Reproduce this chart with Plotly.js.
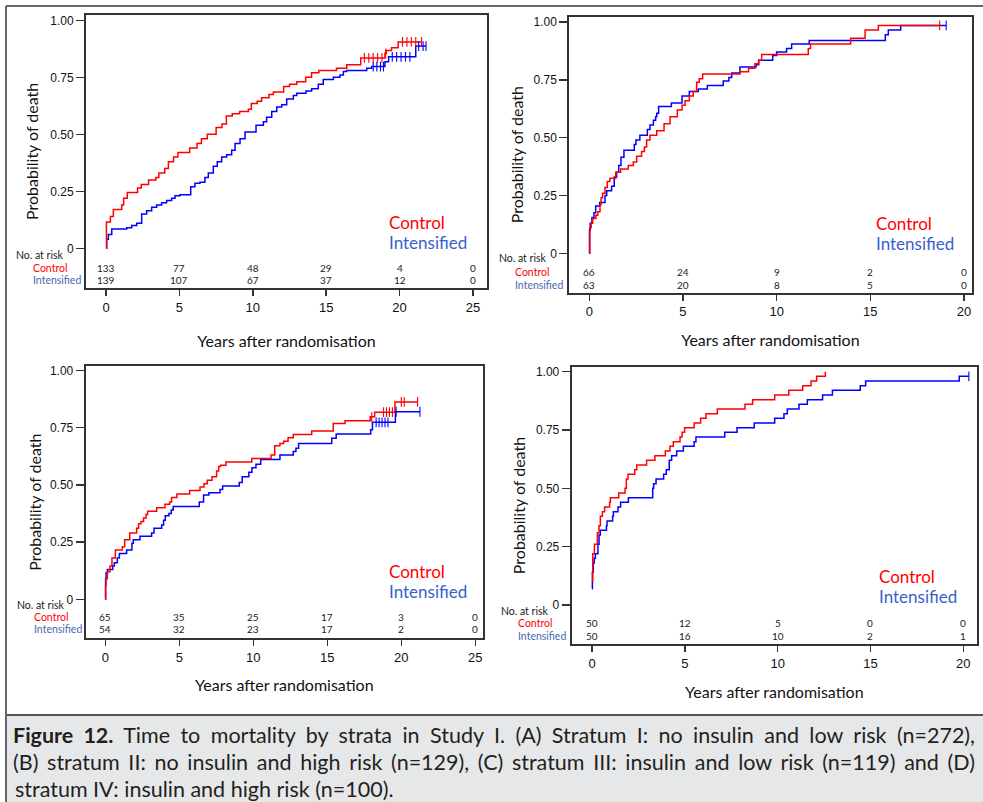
<!DOCTYPE html>
<html>
<head>
<meta charset="utf-8">
<script src="https://cdn.plot.ly/plotly-3.0.1.min.js"></script>
<style>html,body{margin:0;padding:0;background:#fff;}#chart{width:983px;height:802px;}</style>
</head>
<body>
<div id="chart"></div>
<script>
// ---------------- DATA ----------------
// Panel A: Stratum I (no insulin, low risk)
const tA_ctrl = [0,0.03,0.3,0.5,1.07,1.2,1.45,2.15,2.4,2.9,3.4,3.6,4.0,4.25,4.6,4.9,5.7,6.2,6.5,6.9,7.5,7.9,8.2,8.6,9.1,9.7,9.9,10.3,10.6,11.1,11.4,12.1,12.5,13.0,13.6,14.0,14.5,15.7,16.4,17.35,19.0,19.1,19.45,19.9,21.5];
const pA_ctrl = [0,0.115,0.14,0.17,0.19,0.22,0.245,0.265,0.28,0.30,0.31,0.33,0.35,0.38,0.40,0.42,0.44,0.46,0.48,0.50,0.53,0.545,0.58,0.59,0.60,0.61,0.635,0.645,0.66,0.675,0.685,0.71,0.72,0.73,0.75,0.77,0.78,0.79,0.805,0.835,0.855,0.867,0.88,0.905,0.905];
const tA_int = [0,0.05,0.16,0.39,1.41,1.75,2.09,2.43,2.77,3.11,3.45,3.79,4.13,4.47,4.7,5.04,5.77,6.06,6.4,6.74,6.97,7.31,7.58,7.88,8.22,8.56,8.79,9.13,9.47,10.22,10.72,10.94,11.29,11.63,11.97,12.31,12.76,12.99,13.62,14.01,14.46,14.8,15.49,15.94,16.17,16.39,17.76,18.1,19.0,19.25,21.1,21.8];
const pA_int = [0,0.04,0.06,0.085,0.09,0.10,0.11,0.15,0.165,0.18,0.19,0.20,0.21,0.22,0.23,0.235,0.27,0.285,0.29,0.31,0.33,0.36,0.38,0.40,0.41,0.43,0.46,0.48,0.51,0.54,0.555,0.575,0.60,0.62,0.63,0.655,0.67,0.68,0.69,0.70,0.72,0.74,0.75,0.76,0.775,0.78,0.79,0.797,0.818,0.84,0.887,0.887];
const cA_ctrl = [17.6,17.9,18.2,18.5,18.8,19.05,20.2,20.5,20.8,21.1,21.5];
const cA_int = [18.2,18.45,18.7,18.9,19.5,19.8,20.1,20.4,20.7,21.3,21.6,21.8];
const riskA_t = [0,5,10,15,20,25];
const riskA_ctrl = [133,77,48,29,4,0];
const riskA_int = [139,107,67,37,12,0];

// Panel B: Stratum II (no insulin, high risk)
const tB_ctrl = [0,0.03,0.1,0.18,0.35,0.45,0.57,0.63,0.71,0.84,0.96,1.1,1.41,1.67,2.08,2.35,2.53,2.79,2.94,3.06,3.24,3.6,3.99,4.31,4.7,4.95,5.11,5.34,5.55,5.73,5.87,6.05,8.04,8.5,8.84,9.04,9.2,11.69,11.81,13.95,14.72,15.43,18.7];
const pB_ctrl = [0,0.11,0.13,0.15,0.165,0.18,0.21,0.24,0.26,0.285,0.31,0.325,0.35,0.365,0.38,0.395,0.42,0.44,0.46,0.49,0.51,0.53,0.56,0.59,0.62,0.64,0.66,0.68,0.70,0.74,0.755,0.775,0.785,0.80,0.82,0.835,0.86,0.885,0.905,0.93,0.965,0.985,0.985];
const tB_int = [0,0.01,0.05,0.14,0.25,0.34,0.55,0.84,0.93,1.19,1.33,1.46,1.57,1.69,1.85,2.4,2.49,2.7,3.1,3.24,3.42,3.54,3.6,3.7,4.38,4.95,5.34,5.82,6.3,7.15,7.45,7.6,8.04,8.9,9.04,9.79,10.0,10.53,10.8,11.74,15.8,15.96,16.62,19.05];
const pB_int = [0,0.10,0.13,0.155,0.175,0.205,0.22,0.25,0.27,0.29,0.33,0.35,0.38,0.415,0.445,0.47,0.49,0.51,0.535,0.555,0.575,0.59,0.605,0.635,0.65,0.68,0.70,0.71,0.725,0.745,0.76,0.78,0.805,0.815,0.835,0.855,0.87,0.885,0.905,0.92,0.945,0.965,0.985,0.985];
const cB_ctrl = [18.7];
const cB_int = [19.05];
const riskB_t = [0,5,10,15,20];
const riskB_ctrl = [66,24,9,2,0];
const riskB_int = [63,20,8,5,0];

// Panel C: Stratum III (insulin, low risk)
const tC_ctrl = [0,0.02,0.05,0.14,0.32,0.45,0.68,1.15,1.31,1.65,2.12,2.25,2.41,2.59,2.75,2.86,3.47,4.03,4.35,4.48,4.84,5.7,6.4,6.67,6.89,7.21,7.52,7.66,7.79,8.15,9.9,11.2,11.45,11.8,12.05,12.35,12.7,13.95,15.4,16.2,17.9,18.2,19.57,21.1];
const pC_ctrl = [0,0.06,0.09,0.12,0.145,0.18,0.215,0.23,0.26,0.29,0.31,0.33,0.34,0.355,0.37,0.385,0.40,0.415,0.425,0.445,0.46,0.475,0.49,0.505,0.52,0.535,0.56,0.58,0.585,0.60,0.615,0.63,0.67,0.68,0.69,0.705,0.72,0.735,0.768,0.78,0.797,0.817,0.862,0.862];
const tC_int = [0,0.02,0.05,0.14,0.5,0.61,0.81,0.95,1.44,1.8,1.89,2.34,3.13,3.29,3.81,3.94,4.05,4.3,4.46,4.59,6.35,6.64,7.0,7.75,7.93,9.05,9.25,9.7,9.91,10.18,10.5,11.8,12.7,12.88,13.06,15.3,15.6,17.93,18.05,19.6,21.26];
const pC_int = [0,0.09,0.115,0.13,0.145,0.16,0.18,0.20,0.215,0.245,0.26,0.275,0.29,0.31,0.325,0.345,0.365,0.375,0.39,0.405,0.425,0.455,0.465,0.48,0.495,0.51,0.535,0.555,0.575,0.59,0.61,0.63,0.645,0.66,0.68,0.703,0.722,0.74,0.773,0.819,0.819];
const cC_ctrl = [18.0,18.8,19.0,19.2,19.4,20.0,20.2,21.1];
const cC_int = [18.3,18.5,18.7,18.9,19.1,19.65,21.26];
const riskC_t = [0,5,10,15,20,25];
const riskC_ctrl = [65,35,25,17,3,0];
const riskC_int = [54,32,23,17,2,0];

// Panel D: Stratum IV (insulin, high risk)
const tD_ctrl = [0,0.04,0.13,0.29,0.38,0.45,0.56,0.68,0.95,0.99,1.44,1.78,1.85,1.94,2.3,2.41,2.94,3.39,3.95,4.2,4.38,4.74,4.85,4.99,5.5,5.85,6.14,6.75,8.24,8.65,9.84,10.6,11.35,11.8,12.1,12.57];
const pD_ctrl = [0.10,0.22,0.26,0.31,0.34,0.38,0.40,0.42,0.44,0.46,0.48,0.50,0.54,0.56,0.58,0.60,0.62,0.64,0.66,0.68,0.70,0.72,0.74,0.76,0.78,0.80,0.82,0.84,0.86,0.88,0.90,0.92,0.94,0.96,0.98,1.00];
const tD_int = [0,0.02,0.07,0.12,0.18,0.32,0.38,0.45,0.78,0.81,1.11,1.15,1.4,1.54,1.96,3.27,3.32,3.45,3.86,4.0,4.16,4.29,4.56,4.92,5.5,5.6,7.15,7.81,8.74,9.84,10.34,10.52,11.15,11.6,12.42,12.95,14.45,14.74,19.78,20.3];
const pD_int = [0.07,0.14,0.18,0.20,0.22,0.26,0.30,0.32,0.34,0.36,0.38,0.40,0.42,0.44,0.46,0.50,0.52,0.54,0.56,0.58,0.62,0.64,0.66,0.68,0.70,0.72,0.74,0.76,0.78,0.80,0.82,0.84,0.86,0.88,0.90,0.92,0.94,0.96,0.98,0.98];
const cD_ctrl = [];
const cD_int = [20.3];
const riskD_t = [0,5,10,15,20];
const riskD_ctrl = [50,12,5,0,0];
const riskD_int = [50,16,10,2,1];

const yTickVals = [0,0.25,0.5,0.75,1];
const yTickText = ["0","0.25","0.50","0.75","1.00"];
const groupNames = ["Control","Intensified"];
const yTitle = "Probability of death";
const xTitle = "Years after randomisation";
const captionLines = [
  "<b>Figure 12.</b> Time to mortality by strata in Study I. (A) Stratum I: no insulin and low risk (n=272),",
  "(B) stratum II: no insulin and high risk (n=129), (C) stratum III: insulin and low risk (n=119) and (D)",
  "stratum IV: insulin and high risk (n=100)."
];

// ---------------- LAYOUT GEOMETRY (pixels) ----------------
const W = 983, H = 802;
const PX = v => v / W, PY = v => 1 - v / H;
const RED = '#ff0000', BLUE = '#0000ff', LBLUE = '#3a5fcd', TBLUE = '#4a69b0';
const TXT = "Lato, 'Open Sans', sans-serif";
const NUMF = "'Liberation Sans', Arial, sans-serif";

const panels = [
  {id:'', frame:{l:86,r:487,t:14.7,b:288}, x0:106, ppy:14.68, y1:20.3, y0:248.3, xt:[0,5,10,15,20,25], xso:22, yso:8,
   tc:tA_ctrl, pc:pA_ctrl, ti:tA_int, pi:pA_int, cc:cA_ctrl, ci:cA_int, rt:riskA_t, rc:riskA_ctrl, ri:riskA_int,
   risk:{nr:255, rc:268, ri:280, nrl:14, ll:31}, leg:{l:388, c:222.5, i:242.5}},
  {id:'2', frame:{l:569.3,r:971.5,t:16.5,b:292.7}, x0:589.3, ppy:18.735, y1:22, y0:253.3, xt:[0,5,10,15,20], xso:17, yso:6,
   tc:tB_ctrl, pc:pB_ctrl, ti:tB_int, pi:pB_int, cc:cB_ctrl, ci:cB_int, rt:riskB_t, rc:riskB_ctrl, ri:riskB_int,
   risk:{nr:258, rc:272.5, ri:284.5, nrl:496.7, ll:513.3}, leg:{l:875, c:223.5, i:243.5}},
  {id:'3', frame:{l:85.7,r:483,t:366,b:638.3}, x0:105.3, ppy:14.8, y1:370.3, y0:599.3, xt:[0,5,10,15,20,25], xso:16, yso:4,
   tc:tC_ctrl, pc:pC_ctrl, ti:tC_int, pi:pC_int, cc:cC_ctrl, ci:cC_int, rt:riskC_t, rc:riskC_ctrl, ri:riskC_int,
   risk:{nr:604.7, rc:617, ri:629.3, nrl:15, ll:31.7}, leg:{l:388, c:571, i:591}},
  {id:'4', frame:{l:571.7,r:977,t:367,b:644}, x0:592, ppy:18.565, y1:371.7, y0:605, xt:[0,5,10,15,20], xso:17, yso:6,
   tc:tD_ctrl, pc:pD_ctrl, ti:tD_int, pi:pD_int, cc:cD_ctrl, ci:cD_int, rt:riskD_t, rc:riskD_ctrl, ri:riskD_int,
   risk:{nr:610.7, rc:623.3, ri:636, nrl:499.3, ll:516.3}, leg:{l:878, c:576, i:596}}
];

function stepAt(t, ts, ps){ let v = ps[0]; for (let k=0;k<ts.length;k++){ if (ts[k] <= t + 1e-9) v = ps[k]; } return v; }

const traces = [];
const layout = {
  width: W, height: H, margin:{l:0,r:0,t:0,b:0}, showlegend:false,
  paper_bgcolor:'#ffffff', plot_bgcolor:'#ffffff',
  annotations: [], shapes: []
};

panels.forEach(p => {
  const xa = 'x' + p.id, ya = 'y' + p.id;
  const f = p.frame;
  const ppu = p.y0 - p.y1;
  const xr = [(f.l - p.x0)/p.ppy, (f.r - p.x0)/p.ppy];
  const yr = [-(f.b - p.y0)/ppu, 1 + (p.y1 - f.t)/ppu];
  layout['xaxis' + p.id] = {
    domain:[PX(f.l), PX(f.r)], range:xr, anchor:ya, tickvals:p.xt,
    ticks:'outside', ticklen:6, tickwidth:1.5, tickcolor:'#333',
    showline:true, mirror:true, linecolor:'#333', linewidth:2,
    showgrid:false, zeroline:false, fixedrange:true,
    tickfont:{family:NUMF, size:13, color:'#111'},
    title:{text:xTitle, font:{family:TXT, size:16, color:'#111'}, standoff:p.xso}
  };
  layout['yaxis' + p.id] = {
    domain:[PY(f.b), PY(f.t)], range:yr, anchor:xa, tickvals:yTickVals, ticktext:yTickText,
    ticks:'outside', ticklen:8, tickwidth:1.5, tickcolor:'#333',
    showline:true, mirror:true, linecolor:'#333', linewidth:2,
    showgrid:false, zeroline:false, fixedrange:true,
    tickfont:{family:NUMF, size:12, color:'#111'},
    title:{text:yTitle, font:{family:TXT, size:16, color:'#111'}, standoff:p.yso}
  };
  traces.push({type:'scatter', mode:'lines', x:p.ti, y:p.pi, xaxis:xa, yaxis:ya, name:groupNames[1],
    line:{shape:'hv', color:BLUE, width:1.5}, hoverinfo:'skip'});
  traces.push({type:'scatter', mode:'lines', x:p.tc, y:p.pc, xaxis:xa, yaxis:ya, name:groupNames[0],
    line:{shape:'hv', color:RED, width:1.5}, hoverinfo:'skip'});
  if (p.ci.length) traces.push({type:'scatter', mode:'markers', x:p.ci, y:p.ci.map(t=>stepAt(t,p.ti,p.pi)),
    xaxis:xa, yaxis:ya, marker:{symbol:'line-ns-open', size:7, color:BLUE, line:{color:BLUE, width:1.1}}, hoverinfo:'skip'});
  if (p.cc.length) traces.push({type:'scatter', mode:'markers', x:p.cc, y:p.cc.map(t=>stepAt(t,p.tc,p.pc)),
    xaxis:xa, yaxis:ya, marker:{symbol:'line-ns-open', size:7, color:RED, line:{color:RED, width:1.1}}, hoverinfo:'skip'});

  // risk table
  const A = layout.annotations;
  A.push({xref:'paper', yref:'paper', x:PX(p.risk.nrl), y:PY(p.risk.nr), xanchor:'left', yanchor:'middle', showarrow:false,
    text:'No. at risk', font:{family:TXT, size:10.5, color:'#222'}});
  A.push({xref:'paper', yref:'paper', x:PX(p.risk.ll), y:PY(p.risk.rc), xanchor:'left', yanchor:'middle', showarrow:false,
    text:groupNames[0], font:{family:TXT, size:10.5, color:RED}});
  A.push({xref:'paper', yref:'paper', x:PX(p.risk.ll), y:PY(p.risk.ri), xanchor:'left', yanchor:'middle', showarrow:false,
    text:groupNames[1], font:{family:TXT, size:10.5, color:TBLUE}});
  p.rt.forEach((t,k) => {
    A.push({xref:xa, yref:'paper', x:t, y:PY(p.risk.rc), xanchor:'center', yanchor:'middle', showarrow:false,
      text:String(p.rc[k]), font:{family:TXT, size:10, color:'#222'}});
    A.push({xref:xa, yref:'paper', x:t, y:PY(p.risk.ri), xanchor:'center', yanchor:'middle', showarrow:false,
      text:String(p.ri[k]), font:{family:TXT, size:10, color:'#222'}});
  });
  // in-plot legend text
  A.push({xref:'paper', yref:'paper', x:PX(p.leg.l), y:PY(p.leg.c), xanchor:'left', yanchor:'middle', showarrow:false,
    text:groupNames[0], font:{family:TXT, size:17, color:RED}, borderpad:0});
  A.push({xref:'paper', yref:'paper', x:PX(p.leg.l), y:PY(p.leg.i), xanchor:'left', yanchor:'middle', showarrow:false,
    text:groupNames[1], font:{family:TXT, size:17, color:LBLUE}, borderpad:0});
});

// caption band and outer frame
layout.shapes.push({type:'rect', xref:'paper', yref:'paper', x0:PX(6), x1:1, y0:0, y1:PY(715), fillcolor:'#e6e7e8', line:{width:0}, layer:'below'});
layout.shapes.push({type:'line', xref:'paper', yref:'paper', x0:PX(6), x1:1, y0:PY(715), y1:PY(715), line:{color:'#555', width:2}});
layout.shapes.push({type:'line', xref:'paper', yref:'paper', x0:PX(6), x1:1, y0:PY(6), y1:PY(6), line:{color:'#666', width:2}});
layout.shapes.push({type:'line', xref:'paper', yref:'paper', x0:PX(6), x1:PX(6), y0:0, y1:PY(6), line:{color:'#666', width:2}});
const capY = [735, 762, 789];
const capStart = layout.annotations.length;
captionLines.forEach((s,k) => {
  layout.annotations.push({xref:'paper', yref:'paper', x:PX(13), y:PY(capY[k]), xanchor:'left', yanchor:'middle', showarrow:false,
    text:s, font:{family:TXT, size:21.5, color:'#231f20'}});
});

Plotly.newPlot('chart', traces, layout, {staticPlot:true, displayModeBar:false}).then(gd => {
  // justify the first two caption lines (as in the printed figure), keeping the left edge fixed
  const targetW = 962, leftPx = 13;
  const box = gd.getBoundingClientRect();
  [0,1].forEach(k => {
    const el = gd.querySelector('g.annotation[data-index="' + (capStart + k) + '"] text.annotation-text');
    if (!el) return;
    const w = el.getComputedTextLength();
    const nSpaces = (el.textContent.match(/ /g) || []).length;
    if (nSpaces > 0 && w < targetW) el.style.wordSpacing = ((targetW - w) / nSpaces) + 'px';
    const r = el.getBoundingClientRect();
    const dx = leftPx - (r.left - box.left);
    el.setAttribute('transform', 'translate(' + dx.toFixed(2) + ',0)');
  });
});
</script>
</body>
</html>
